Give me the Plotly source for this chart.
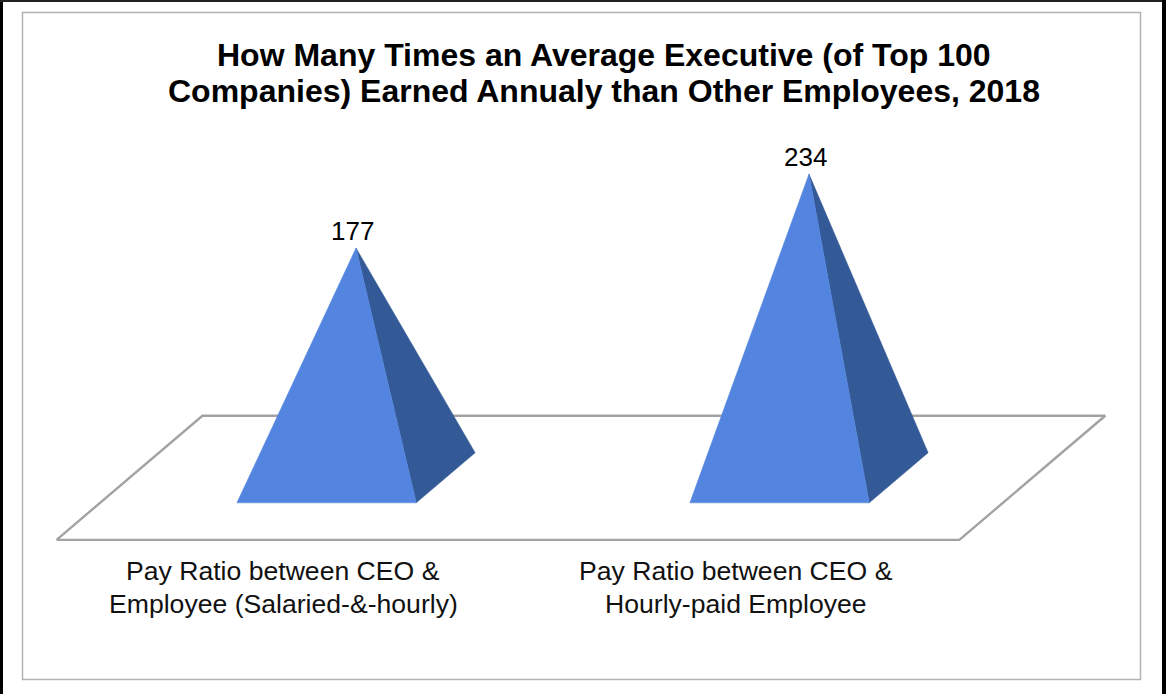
import plotly.graph_objects as go

# Chart data
categories = [["Pay Ratio between CEO &", "Employee (Salaried-&-hourly)"],
              ["Pay Ratio between CEO &", "Hourly-paid Employee"]]
pay_ratios = [177, 234]
title_lines = ["How Many Times an Average Executive (of Top 100",
               "Companies) Earned Annualy than Other Employees, 2018"]

# Colours
FRONT_FACE = "#5384df"
SIDE_FACE = "#335a97"
FLOOR_LINE = "#a3a3a3"
PANEL_LINE = "#b2b2b2"

# Oblique projection of the 3D scene, in axis units
HALF_WIDTH = 0.198
DEPTH_X = 0.065
DEPTH_Y = 19.3
FLOOR_DEPTH_X = 0.161
FLOOR_DEPTH_Y = 47.8
FLOOR_LEFT, FLOOR_RIGHT = -0.5, 1.493

W, H = 1166, 694
fig = go.Figure()

# Floor plane spanning both categories
floor_x = [FLOOR_LEFT - FLOOR_DEPTH_X, FLOOR_RIGHT - FLOOR_DEPTH_X,
           FLOOR_RIGHT + FLOOR_DEPTH_X, FLOOR_LEFT + FLOOR_DEPTH_X]
floor_y = [-FLOOR_DEPTH_Y, -FLOOR_DEPTH_Y, FLOOR_DEPTH_Y, FLOOR_DEPTH_Y]
fig.add_trace(go.Scatter(
    x=floor_x + floor_x[:1], y=floor_y + floor_y[:1], mode="lines",
    line=dict(color=FLOOR_LINE, width=2.4), hoverinfo="skip", showlegend=False,
))

# One pyramid per category, its apex at the category's value
for i, value in enumerate(pay_ratios):
    front_left = (i - HALF_WIDTH - DEPTH_X, -DEPTH_Y)
    front_right = (i + HALF_WIDTH - DEPTH_X, -DEPTH_Y)
    back_right = (i + HALF_WIDTH + DEPTH_X, DEPTH_Y)
    apex = (i, value)
    for face, colour in (((apex, front_right, back_right), SIDE_FACE),
                         ((apex, front_left, front_right), FRONT_FACE)):
        xs, ys = zip(*face)
        fig.add_trace(go.Scatter(
            x=list(xs) + [xs[0]], y=list(ys) + [ys[0]], mode="lines", fill="toself",
            fillcolor=colour, line=dict(color=colour, width=0.5),
            name=str(value), showlegend=False,
        ))
    # Value label above the apex
    fig.add_annotation(x=i, y=value, text=str(value), showarrow=False,
                       xshift=-3.5, yshift=0, yanchor="bottom", xanchor="center",
                       font=dict(size=26, color="#000000"))
    # Category label below the floor's front edge, one annotation per line
    for n, line in enumerate(categories[i]):
        fig.add_annotation(x=i - FLOOR_DEPTH_X, y=-FLOOR_DEPTH_Y, text=line, showarrow=False,
                           yshift=-31 - 33 * n, yanchor="middle", xanchor="center",
                           font=dict(size=26.6, color="#111111"))

# Two-line bold title with tight leading
for n, line in enumerate(title_lines):
    fig.add_annotation(xref="paper", yref="paper", x=604 / W, y=1 - (55 + 36 * n) / H,
                       text=f"<b>{line}</b>", showarrow=False,
                       xanchor="center", yanchor="middle",
                       font=dict(size=32, color="#000000"))

fig.update_layout(
    width=W, height=H, margin=dict(l=0, r=0, t=0, b=0),
    paper_bgcolor="#ffffff", plot_bgcolor="#ffffff",
    font=dict(family="Liberation Sans, Arial, sans-serif"),
    xaxis=dict(range=[-356 / 453, (W - 356) / 453], visible=False, fixedrange=True),
    yaxis=dict(range=[(477.8 - H) / 1.298, 477.8 / 1.298], visible=False, fixedrange=True),
    shapes=[
        # Inner chart panel
        dict(type="rect", xref="paper", yref="paper",
             x0=22.5 / W, x1=1140.5 / W, y0=1 - 679.5 / H, y1=1 - 12.5 / H,
             line=dict(color=PANEL_LINE, width=1.5), layer="below"),
        # Outer frame on the left, top and right edges
        dict(type="rect", xref="paper", yref="paper", x0=0, x1=3 / W, y0=0, y1=1,
             line=dict(width=0), fillcolor="#000000"),
        dict(type="rect", xref="paper", yref="paper", x0=0, x1=1, y0=1 - 2 / H, y1=1,
             line=dict(width=0), fillcolor="#222222"),
        dict(type="rect", xref="paper", yref="paper", x0=1162 / W, x1=1, y0=0, y1=1,
             line=dict(width=0), fillcolor="#000000"),
    ],
)

fig.write_html("out.html", config=dict(displayModeBar=False))
